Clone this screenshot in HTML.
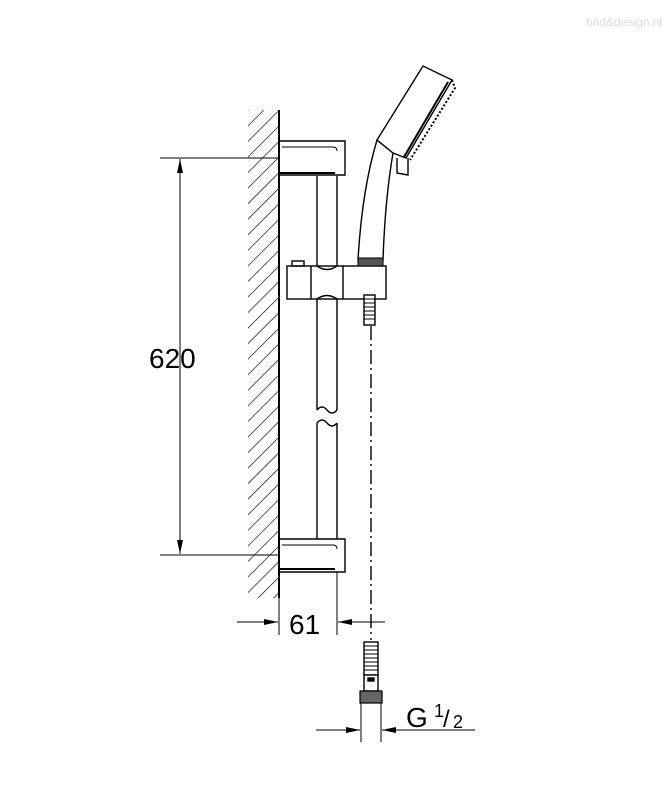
<!DOCTYPE html>
<html><head><style>body{margin:0;background:#fff}svg{display:block}</style></head>
<body>
<svg width="666" height="800" viewBox="0 0 666 800" xmlns="http://www.w3.org/2000/svg">
<defs>
<pattern id="h" width="11" height="11" patternUnits="userSpaceOnUse" patternTransform="rotate(45)">
<line x1="0" y1="0" x2="0" y2="11" stroke="#000" stroke-width="1.3"/></pattern>
<marker id="a" markerWidth="14" markerHeight="8" refX="14" refY="4" orient="auto" markerUnits="userSpaceOnUse">
<path d="M0,1 L14,4 L0,7 Z" fill="#000"/></marker>
</defs>
<text x="586" y="26" font-family="Liberation Sans, sans-serif" font-size="12" fill="#ddd">bad&amp;design.nl</text>
<g stroke="#000" fill="none" stroke-width="1.4">
<rect x="248" y="110" width="31" height="488" fill="url(#h)" stroke="none"/>
<line x1="279" y1="110" x2="279" y2="598" stroke-width="2"/>
<path d="M280,141 L345,141 L345,175 L280,175" fill="#fff"/>
<path d="M282,147 L333,147 Q337,147 337,151" stroke-width="1"/>
<path d="M280,173 L335,173" stroke-width="2"/>
<path d="M280,539 L345,539 L345,572 L280,572" fill="#fff"/>
<path d="M282,545 L333,545 Q337,545 337,549" stroke-width="1"/>
<path d="M280,569 L335,569" stroke-width="2"/>
<line x1="317" y1="176" x2="317" y2="410"/><line x1="337" y1="176" x2="337" y2="410"/>
<path d="M317,410 Q322,404 327,410 Q332,416 337,410"/>
<path d="M317,423 Q322,417 327,423 Q332,429 337,423"/>
<line x1="317" y1="423" x2="317" y2="539"/><line x1="337" y1="423" x2="337" y2="539"/>
<rect x="287" y="266" width="99" height="33" fill="#fff"/>
<line x1="311" y1="266" x2="311" y2="299"/><line x1="343" y1="266" x2="343" y2="299"/>
<path d="M317,266 Q327,273 337,266"/><path d="M317,299 Q327,292 337,299"/>
<rect x="292" y="261" width="12" height="5"/>
<rect x="364" y="295" width="11" height="30" fill="#fff"/>
<path d="M364,299h11M364,303h11M364,307h11M364,311h11M364,315h11M364,319h11" stroke-width="1"/>
<path d="M377,140 Q362,190 358,260 L383,260 Q385,200 393,153 Z" fill="#fff"/>
<rect x="358" y="258" width="25" height="8" fill="#555" stroke-width="1"/>
<path d="M377,140 L423,66 L452,80 L406,158 L393,153 Z" fill="#fff"/>
<path d="M448,82 L404,157" stroke-width="2"/>
<path d="M452,80 L455,88 L410,160" stroke-dasharray="2,2" stroke-width="2"/>
<path d="M397,158 L397,173 L408,175 L408,158"/>
<line x1="371" y1="326" x2="371" y2="640" stroke-dasharray="14,4,2,4"/>
<line x1="160" y1="158" x2="279" y2="158" stroke-width="1"/>
<line x1="160" y1="555" x2="279" y2="555" stroke-width="1"/>
<line x1="180" y1="357" x2="180" y2="159" stroke-width="1" marker-end="url(#a)"/>
<line x1="180" y1="357" x2="180" y2="554" stroke-width="1" marker-end="url(#a)"/>
<line x1="279" y1="598" x2="279" y2="635" stroke-width="1"/>
<line x1="337" y1="572" x2="337" y2="635" stroke-width="1"/>
<line x1="237" y1="622" x2="278" y2="622" stroke-width="1" marker-end="url(#a)"/>
<line x1="385" y1="622" x2="338" y2="622" stroke-width="1" marker-end="url(#a)"/>
<rect x="364" y="642" width="14" height="33" fill="#fff"/>
<path d="M364,646h14M364,650h14M364,654h14M364,658h14M364,662h14M364,666h14M364,670h14" stroke-width="1"/>
<rect x="364" y="675" width="14" height="16" fill="#fff"/>
<rect x="368" y="678" width="6" height="3" fill="#000"/>
<rect x="360" y="691" width="22" height="12" fill="#666" stroke-width="1.2"/>
<line x1="361" y1="703" x2="361" y2="742" stroke-width="1"/>
<line x1="381" y1="703" x2="381" y2="742" stroke-width="1"/>
<line x1="316" y1="730" x2="360" y2="730" stroke-width="1" marker-end="url(#a)"/>
<line x1="475" y1="730" x2="382" y2="730" stroke-width="1" marker-end="url(#a)"/>
</g>
<g font-family="Liberation Sans, sans-serif" fill="#000">
<text x="149" y="368" font-size="28">620</text>
<text x="289" y="634" font-size="28">61</text>
<text x="406" y="727" font-size="28">G</text>
<text x="434" y="717" font-size="18">1</text>
<text x="443" y="727" font-size="24">/</text>
<text x="453" y="728" font-size="18">2</text>
</g>
</svg>
</body></html>
